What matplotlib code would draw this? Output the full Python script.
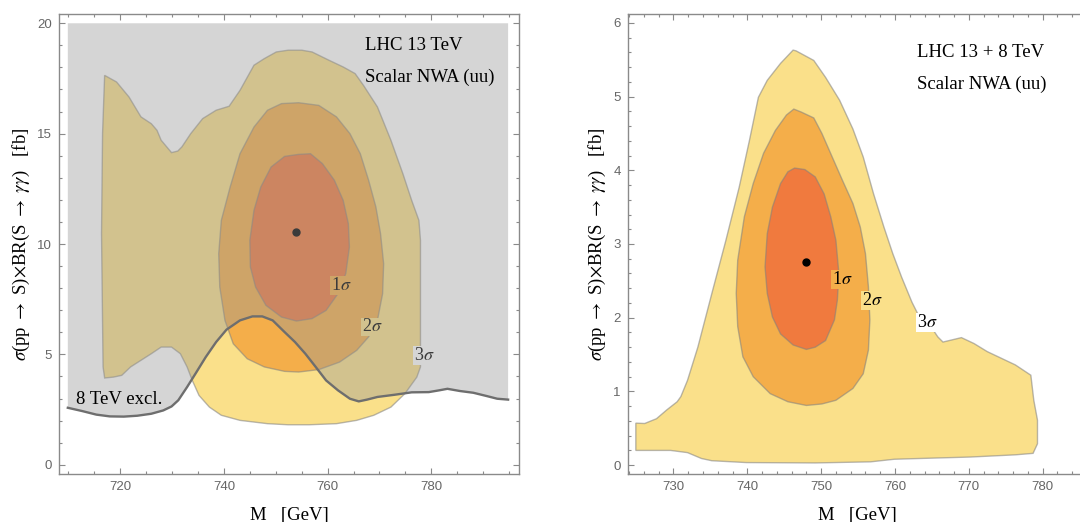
import matplotlib
matplotlib.use("Agg")
import matplotlib.pyplot as plt
from matplotlib.ticker import MultipleLocator

##############################################################################
# data (M in GeV, sigma x BR in fb)

# left panel: LHC 13 TeV
l3_m = [717.0, 719.3, 721.7, 724.0, 726.0, 727.1, 727.9, 729.9, 731.1, 731.9,
        733.6, 735.9, 738.5, 741.0, 743.1, 745.8, 747.8, 750.1, 752.4, 755.0,
        757.0, 760.3, 763.0, 765.3, 766.9, 769.6, 772.2, 774.5, 776.2, 777.6,
        777.9, 777.9, 777.2, 774.9, 772.2, 768.9, 765.6, 761.7, 756.4, 752.4,
        748.4, 743.1, 739.5, 737.2, 735.2, 733.9, 732.9, 731.6, 729.9, 727.9,
        726.0, 724.0, 722.0, 720.3, 718.7, 717.0, 716.7, 716.4, 716.6]
l3_s = [17.64, 17.34, 16.66, 15.76, 15.45, 15.15, 14.70, 14.14, 14.21, 14.40,
        15.00, 15.68, 16.06, 16.24, 16.96, 18.10, 18.40, 18.70, 18.78, 18.78,
        18.70, 18.32, 18.02, 17.72, 17.19, 16.21, 14.70, 13.19, 11.98, 11.07,
        10.17, 4.43, 3.97, 3.22, 2.61, 2.24, 2.01, 1.86, 1.81, 1.81,
        1.86, 2.01, 2.24, 2.61, 3.14, 3.82, 4.43, 5.03, 5.33, 5.33,
        5.03, 4.73, 4.43, 4.05, 3.97, 3.93, 4.43, 10.47, 15.00]

l2_m = [754.4, 751.1, 748.4, 745.8, 743.1, 741.2, 739.5, 739.0, 739.2, 740.2,
        741.8, 744.5, 747.8, 751.7, 754.4, 758.3, 762.3, 765.6, 767.9, 769.6,
        770.6, 770.8, 770.2, 769.3, 767.9, 766.3, 764.3, 761.7, 758.3]
l2_s = [16.40, 16.36, 16.06, 15.30, 14.09, 12.58, 11.07, 9.56, 8.05, 6.54,
        5.48, 4.80, 4.43, 4.23, 4.20, 4.31, 4.65, 5.18, 5.79, 6.54,
        7.75, 9.11, 10.47, 11.68, 12.89, 14.09, 15.00, 15.76, 16.28]

l1_m = [754.4, 751.7, 749.1, 747.1, 745.8, 745.0, 745.1, 746.1, 748.1, 751.1,
        754.0, 757.0, 759.7, 762.0, 763.5, 764.2, 764.0, 763.0, 761.3, 759.0,
        756.7]
l1_s = [14.06, 13.97, 13.49, 12.58, 11.53, 10.17, 8.96, 8.05, 7.22, 6.69,
        6.51, 6.62, 6.99, 7.75, 8.66, 9.86, 10.92, 11.98, 12.89, 13.64,
        14.09]

l_best = (753.9, 10.54)

excl_m = [709.9, 712.7, 715.4, 718.0, 720.7, 723.3, 726.0, 728.3, 729.9, 731.2,
          732.9, 734.5, 736.5, 738.5, 740.5, 743.1, 745.5, 747.4, 749.4, 751.7,
          753.7, 755.7, 757.7, 759.7, 762.0, 764.3, 766.0, 767.6, 769.6, 772.9,
          776.2, 779.5, 781.5, 783.1, 785.5, 788.1, 790.7, 792.7, 794.8]
excl_s = [2.58, 2.43, 2.27, 2.19, 2.18, 2.22, 2.31, 2.46, 2.64, 2.92,
          3.52, 4.12, 4.88, 5.56, 6.12, 6.54, 6.72, 6.72, 6.54, 6.01,
          5.56, 5.03, 4.43, 3.82, 3.37, 2.99, 2.87, 2.95, 3.07, 3.17,
          3.28, 3.29, 3.37, 3.44, 3.34, 3.26, 3.11, 2.99, 2.95]

# right panel: LHC 13 + 8 TeV
r3_m = [724.9, 724.9, 726.1, 727.7, 729.1, 730.5, 731.0, 731.9, 733.3, 735.2,
        737.1, 738.9, 740.3, 741.5, 742.7, 744.5, 746.2, 746.6, 749.0, 750.6,
        752.5, 754.3, 755.7, 757.1, 758.5, 759.7, 760.9, 762.3, 763.2, 764.6,
        765.8, 766.5, 769.0, 770.7, 772.5, 774.4, 776.3, 778.4, 778.8, 779.3,
        779.3, 778.7, 776.3, 770.2, 763.2, 759.9, 756.7, 749.2, 739.9, 735.2,
        733.8, 731.9, 729.6]
r3_s = [0.20, 0.57, 0.565, 0.63, 0.75, 0.86, 0.93, 1.15, 1.60, 2.33,
        3.05, 3.77, 4.41, 4.99, 5.22, 5.45, 5.63, 5.62, 5.49, 5.26,
        4.95, 4.56, 4.18, 3.68, 3.23, 2.87, 2.55, 2.21, 2.03, 1.92,
        1.74, 1.67, 1.73, 1.65, 1.54, 1.45, 1.36, 1.22, 0.88, 0.61,
        0.29, 0.16, 0.14, 0.11, 0.09, 0.08, 0.045, 0.03, 0.035, 0.06,
        0.09, 0.17, 0.20]

r2_m = [746.3, 747.3, 749.0, 750.1, 751.5, 752.9, 754.3, 755.3, 756.0, 756.4,
        756.6, 756.4, 755.7, 754.3, 752.0, 750.1, 748.0, 745.5, 743.1, 740.8,
        739.4, 738.7, 738.5, 738.7, 739.6, 740.8, 742.2, 743.8, 745.3]
r2_s = [4.83, 4.79, 4.71, 4.50, 4.18, 3.86, 3.55, 3.23, 2.87, 2.42,
        1.97, 1.56, 1.24, 1.04, 0.88, 0.83, 0.81, 0.86, 0.97, 1.20,
        1.47, 1.88, 2.33, 2.78, 3.37, 3.82, 4.23, 4.54, 4.75]

r1_m = [746.4, 747.8, 749.2, 750.4, 751.3, 752.0, 752.4, 752.2, 751.8, 750.6,
        749.2, 748.0, 746.2, 744.5, 743.4, 742.7, 742.4, 742.7, 743.4, 744.5,
        745.5]
r1_s = [4.03, 4.01, 3.91, 3.68, 3.37, 3.05, 2.60, 2.24, 1.97, 1.69,
        1.60, 1.57, 1.63, 1.78, 2.01, 2.33, 2.69, 3.14, 3.50, 3.82,
        3.98]

r_best = (748.0, 2.75)

sigma_labels = ['1$\\sigma$', '2$\\sigma$', '3$\\sigma$']
l_label_pos = [(762.6, 8.13), (768.6, 6.24), (778.6, 4.95)]
r_label_pos = [(752.85, 2.52), (756.9, 2.23), (764.4, 1.93)]

##############################################################################
# style

plt.rcParams['font.family'] = ['Liberation Serif', 'DejaVu Serif']
plt.rcParams['mathtext.fontset'] = 'stix'

c3 = '#fae08a'
c2 = '#f4ae4a'
c1 = '#f07a3e'
edge = '#808080'
frame = '#8a8a8a'
fontsize = 13.5

ylab = '$\\sigma$(pp $\\rightarrow$ S)$\\times$BR(S $\\rightarrow$ $\\gamma\\gamma$)   [fb]'


def region(ax, m, s, color):
    ax.fill(m, s, facecolor=color, edgecolor='none', zorder=2)
    ax.fill(m, s, facecolor='none', edgecolor=edge, alpha=0.55, lw=1.0, zorder=2.5)


def style_axes(ax, xmaj, xmin, ymaj, ymin):
    ax.xaxis.set_major_locator(MultipleLocator(xmaj))
    ax.xaxis.set_minor_locator(MultipleLocator(xmin))
    ax.yaxis.set_major_locator(MultipleLocator(ymaj))
    ax.yaxis.set_minor_locator(MultipleLocator(ymin))
    ax.tick_params(which='both', direction='in', top=True, right=True,
                   color=frame, width=0.8)
    ax.tick_params(which='major', length=4.5, labelsize=9.5, labelcolor='#666666', pad=5)
    ax.tick_params(which='minor', length=2.3)
    for lab in ax.get_xticklabels() + ax.get_yticklabels():
        lab.set_family('Liberation Sans')
    for sp in ax.spines.values():
        sp.set_color(frame)
        sp.set_linewidth(1.0)
    ax.set_xlabel('M   [GeV]', fontsize=fontsize, labelpad=10)
    ax.set_ylabel(ylab, fontsize=fontsize, labelpad=4)


def sigma_label(ax, xy, txt, bg):
    ax.text(xy[0], xy[1], txt, fontsize=13, ha='center', va='center', zorder=4,
            bbox=dict(boxstyle='square,pad=0.05', fc=bg, ec='none'))


fig = plt.figure(figsize=(10.8, 5.22), dpi=100)
axl = fig.add_axes([59 / 1080, 48 / 522, 460 / 1080, 460 / 522])
axr = fig.add_axes([627.7 / 1080, 48 / 522, 460 / 1080, 460 / 522])

# left
region(axl, l3_m, l3_s, c3)
region(axl, l2_m, l2_s, c2)
region(axl, l1_m, l1_s, c1)
axl.plot(*l_best, 'o', color='black', ms=5, zorder=3)
for xy, txt, bg in zip(l_label_pos, sigma_labels, [c2, c3, 'white']):
    sigma_label(axl, xy, txt, bg)
axl.fill_between(excl_m, excl_s, 20, facecolor='#969696', alpha=0.4, lw=0, zorder=5)
axl.plot(excl_m, excl_s, color='#6e6e6e', lw=1.7, zorder=6)
axl.text(711.4, 2.95, '8 TeV excl.', fontsize=fontsize, va='center', zorder=7)
axl.text(767.3, 19.0, 'LHC 13 TeV', fontsize=fontsize, va='center', zorder=7)
axl.text(767.3, 17.55, 'Scalar NWA (uu)', fontsize=fontsize, va='center', zorder=7)
axl.set_xlim(708.2, 796.9)
axl.set_ylim(-0.42, 20.42)
style_axes(axl, 20, 5, 5, 1)

# right
region(axr, r3_m, r3_s, c3)
region(axr, r2_m, r2_s, c2)
region(axr, r1_m, r1_s, c1)
axr.plot(*r_best, 'o', color='black', ms=5, zorder=3)
for xy, txt, bg in zip(r_label_pos, sigma_labels, [c2, c3, 'white']):
    sigma_label(axr, xy, txt, bg)
axr.text(763.0, 5.60, 'LHC 13 + 8 TeV', fontsize=fontsize, va='center')
axr.text(763.0, 5.17, 'Scalar NWA (uu)', fontsize=fontsize, va='center')
axr.set_xlim(723.8, 786.1)
axr.set_ylim(-0.12, 6.12)
style_axes(axr, 10, 2, 1, 0.2)

fig.savefig('out.png', dpi=100)
